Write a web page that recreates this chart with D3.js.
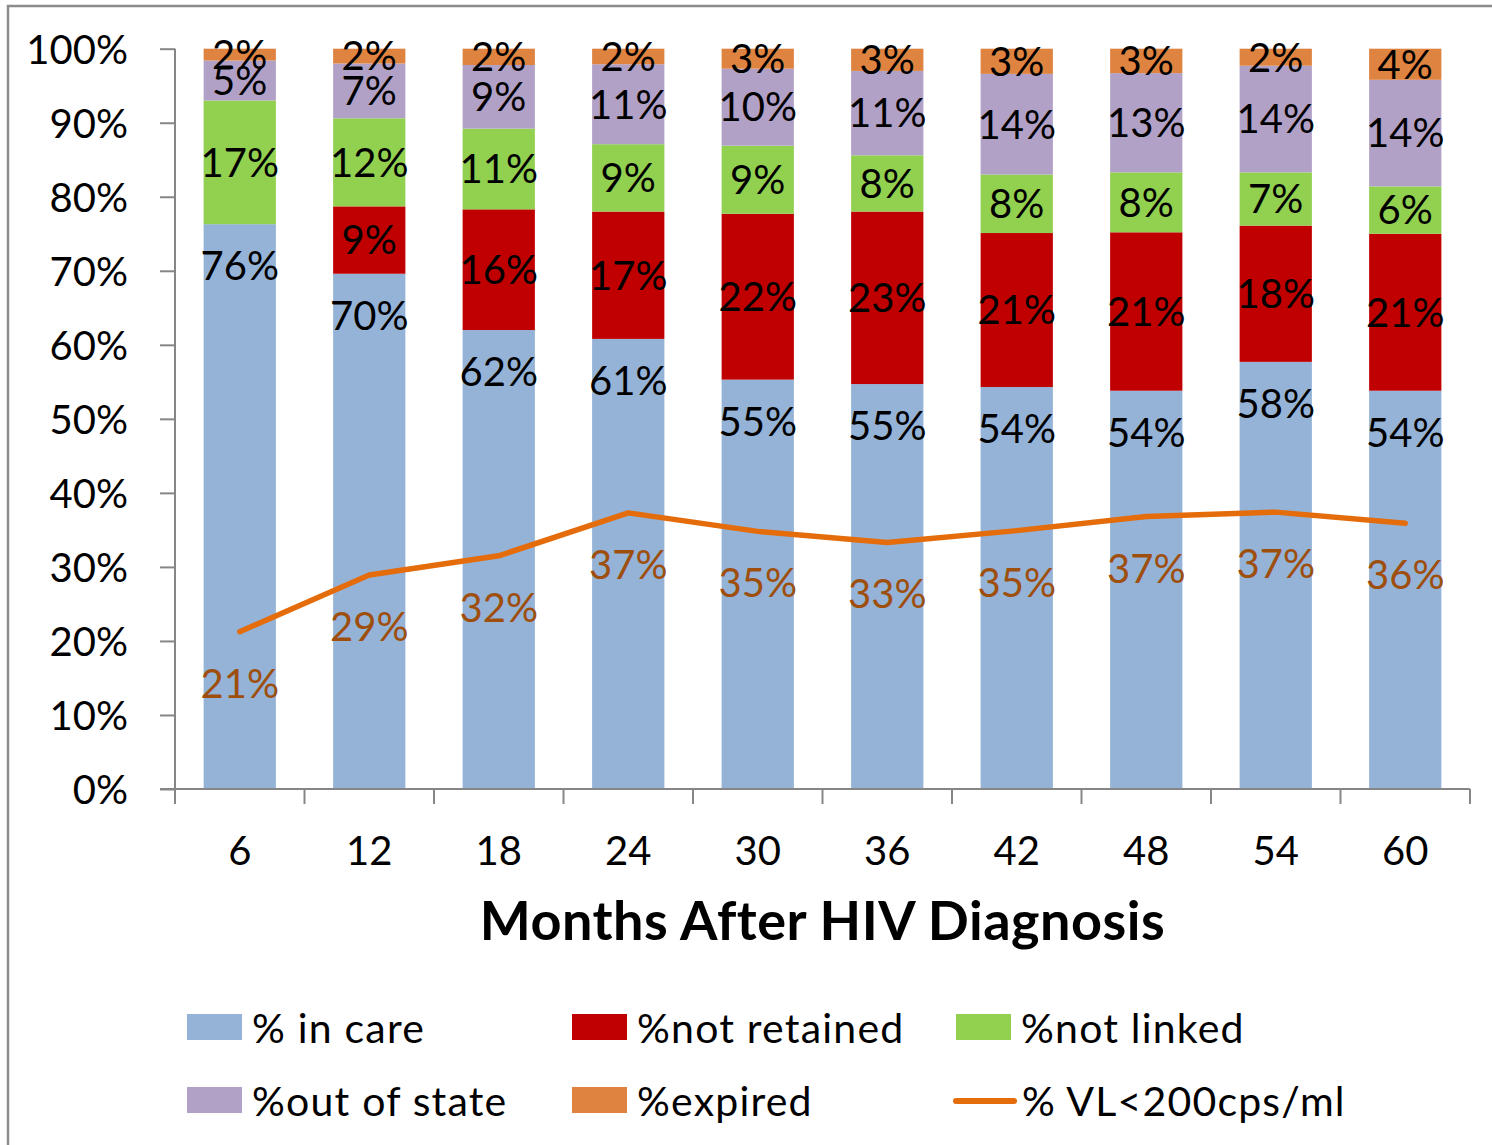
<!DOCTYPE html>
<html>
<head>
<meta charset="utf-8">
<script src="https://cdn.jsdelivr.net/npm/d3@7"></script>
<style>
  body { margin: 0; background: #fff; }
  text { font-family: Lato, "Open Sans", sans-serif; }
</style>
</head>
<body>
<svg width="1492" height="1145"></svg>
<script>
var months = ["6", "12", "18", "24", "30", "36", "42", "48", "54", "60"];

var inCare      = [76.3, 69.6, 62.0, 60.8, 55.3, 54.7, 54.3, 53.8, 57.7, 53.8];
var notRetained = [0.0,  9.1, 16.3, 17.2, 22.4, 23.3, 20.8, 21.4, 18.4, 21.2];
var notLinked   = [16.7, 11.9, 10.9, 9.1, 9.2, 7.6, 7.9, 8.1, 7.2, 6.4];
var outOfState  = [5.4,  7.4,  8.6, 10.8, 10.4, 11.4, 13.6, 13.4, 14.4, 14.4];
var expired     = [1.6,  2.0,  2.2,  2.1,  2.7,  3.0,  3.4,  3.3,  2.3,  4.2];

var vlSuppressed = [21.25, 28.9, 31.5, 37.3, 34.8, 33.3, 34.9, 36.8, 37.4, 35.9];

var yTicks = [0, 10, 20, 30, 40, 50, 60, 70, 80, 90, 100];

var seriesNames = ["% in care", "%not retained", "%not linked", "%out of state", "%expired"];
var seriesColors = ["#95b3d7", "#c00000", "#92d050", "#b2a1c7", "#de8340"];
var lineName = "% VL<200cps/ml";
var lineColor = "#e46c0a";
var lineLabelColor = "#9e4e0d";

var keys = ["care", "notRet", "notLinked", "out", "exp"];
var table = months.map(function(m, i) {
  return { month: m, care: inCare[i], notRet: notRetained[i], notLinked: notLinked[i],
           out: outOfState[i], exp: expired[i], vl: vlSuppressed[i] };
});

var svg = d3.select("svg");

// chart frame (only top and left edges visible)
svg.append("rect")
    .attr("x", 8).attr("y", 6)
    .attr("width", 1600).attr("height", 1300)
    .attr("fill", "none")
    .attr("stroke", "#8c8c8c")
    .attr("stroke-width", 2.5);

var x = d3.scaleBand()
    .domain(months)
    .range([175, 1470])
    .paddingInner(0.442)
    .paddingOuter(0.221);

var y = d3.scaleLinear()
    .domain([0, 100])
    .range([789, 48.7]);

var stacked = d3.stack().keys(keys)(table);

var layers = svg.append("g")
  .selectAll("g")
  .data(stacked)
  .enter().append("g")
    .attr("fill", function(d, i) { return seriesColors[i]; });

layers.selectAll("rect")
  .data(function(d) { return d; })
  .enter().append("rect")
    .attr("x", function(d) { return x(d.data.month); })
    .attr("y", function(d) { return y(d[1]); })
    .attr("width", x.bandwidth())
    .attr("height", function(d) { return y(d[0]) - y(d[1]); });

// axes
var axisColor = "#868686";

var yAxis = svg.append("g")
    .attr("transform", "translate(175,0)")
    .call(d3.axisLeft(y).tickValues(yTicks).tickSize(15).tickPadding(32)
      .tickFormat(function(d) { return d + "%"; }));

var xAxis = svg.append("g")
    .attr("transform", "translate(0,789)")
    .call(d3.axisBottom(x).tickSize(0).tickPadding(76));

xAxis.selectAll(".tick line").remove();
xAxis.append("g")
  .selectAll("line")
  .data(d3.range(months.length + 1))
  .enter().append("line")
    .attr("x1", function(i) { return 175 + i * x.step(); })
    .attr("x2", function(i) { return 175 + i * x.step(); })
    .attr("y1", 0)
    .attr("y2", 15)
    .attr("stroke", axisColor)
    .attr("stroke-width", 2);

svg.selectAll(".domain").attr("stroke", axisColor).attr("stroke-width", 2);
yAxis.select(".domain").attr("d", "M160,789H0V48.7");
xAxis.select(".domain").attr("d", "M160,0H1470");
yAxis.selectAll(".tick line").attr("stroke", axisColor).attr("stroke-width", 2);

svg.selectAll(".tick text")
    .attr("fill", "#000")
    .style("font-size", "40px");
yAxis.selectAll(".tick text").attr("dy", "0.36em");
xAxis.selectAll(".tick text").attr("dy", "0");

svg.append("text")
    .attr("x", 822.5)
    .attr("y", 940)
    .attr("text-anchor", "middle")
    .style("font-size", "54px")
    .style("font-weight", "bold")
    .style("letter-spacing", "0.5px")
    .text("Months After HIV Diagnosis");

// VL line
var line = d3.line()
    .x(function(d) { return x(d.month) + x.bandwidth() / 2; })
    .y(function(d) { return y(d.vl); });

svg.append("path")
    .datum(table)
    .attr("d", line)
    .attr("fill", "none")
    .attr("stroke", lineColor)
    .attr("stroke-width", 5.5)
    .attr("stroke-linecap", "round")
    .attr("stroke-linejoin", "round");

svg.append("g")
  .selectAll("text")
  .data(table)
  .enter().append("text")
    .attr("x", function(d) { return x(d.month) + x.bandwidth() / 2; })
    .attr("y", function(d) { return y(d.vl) + 66; })
    .attr("text-anchor", "middle")
    .attr("fill", lineLabelColor)
    .style("font-size", "40px")
    .text(function(d) { return Math.round(d.vl) + "%"; });

// bar labels
stacked.forEach(function(layer, li) {
  svg.append("g")
    .selectAll("text")
    .data(layer.filter(function(d) { return d[1] - d[0] > 0; }))
    .enter().append("text")
      .attr("x", function(d) { return x(d.data.month) + x.bandwidth() / 2; })
      .attr("y", function(d) {
        // in-care labels sit near the top of the segment
        if (li === 0) return y(d[1]) + 42 + 14.3;
        return (y(d[0]) + y(d[1])) / 2 + 14.3;
      })
      .attr("text-anchor", "middle")
      .attr("fill", "#000")
      .style("font-size", "40px")
      .text(function(d) { return Math.round(d[1] - d[0]) + "%"; });
});

// legend
var legendItems = [
  { name: seriesNames[0], color: seriesColors[0], col: 0, row: 0 },
  { name: seriesNames[1], color: seriesColors[1], col: 1, row: 0 },
  { name: seriesNames[2], color: seriesColors[2], col: 2, row: 0 },
  { name: seriesNames[3], color: seriesColors[3], col: 0, row: 1 },
  { name: seriesNames[4], color: seriesColors[4], col: 1, row: 1 },
  { name: lineName, color: lineColor, col: 2, row: 1, isLine: true }
];
var colX = [187, 572, 956];
var rowY = [1027, 1100];

var legend = svg.append("g")
  .selectAll("g")
  .data(legendItems)
  .enter().append("g")
    .attr("transform", function(d) { return "translate(" + colX[d.col] + "," + rowY[d.row] + ")"; });

legend.filter(function(d) { return !d.isLine; })
  .append("rect")
    .attr("x", 0).attr("y", -13)
    .attr("width", 55).attr("height", 26)
    .attr("fill", function(d) { return d.color; });

legend.filter(function(d) { return d.isLine; })
  .append("line")
    .attr("x1", 0).attr("x2", 58)
    .attr("y1", 1).attr("y2", 1)
    .attr("stroke", function(d) { return d.color; })
    .attr("stroke-width", 6)
    .attr("stroke-linecap", "round");

legend.append("text")
    .attr("x", function(d) { return d.isLine ? 66 : 65; })
    .attr("y", 16)
    .style("font-size", "41px")
    .style("letter-spacing", "1.2px")
    .attr("fill", "#000")
    .text(function(d) { return d.name; });
</script>
</body>
</html>
